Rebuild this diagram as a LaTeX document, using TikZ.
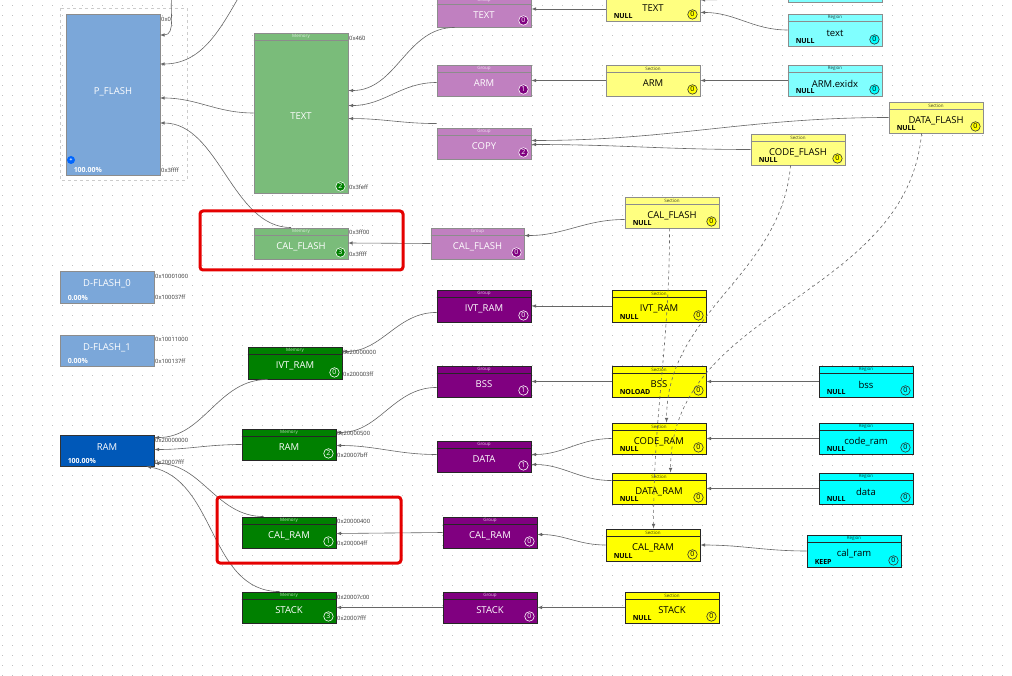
\documentclass[tikz,border=0pt]{standalone}
\usepackage{fontspec}
\setmainfont{Open Sans}
\usepackage{tikz}
\usetikzlibrary{fit,calc,arrows,positioning}
\definecolor{flashblue}{HTML}{7BA7D9}
\definecolor{ramblue}{HTML}{0058B8}
\definecolor{lmemgreen}{HTML}{7ABC7A}
\definecolor{dmemgreen}{HTML}{008000}
\definecolor{lgrp}{HTML}{C080C0}
\definecolor{dgrp}{HTML}{800080}
\definecolor{lsec}{HTML}{FFFF80}
\definecolor{dsec}{HTML}{FFFF00}
\definecolor{lreg}{HTML}{80FFFF}
\definecolor{dreg}{HTML}{00FFFF}
\tikzset{
  blkbox/.style={inner sep=0pt, line width=0.9pt},
  flash/.style={blkbox, fill=flashblue, draw=gray!90},
  ram/.style={blkbox, fill=ramblue, draw=black!80},
  lmem/.style={blkbox, fill=lmemgreen, draw=gray!90},
  dmem/.style={blkbox, fill=dmemgreen, draw=black!85},
  lgrp/.style={blkbox, fill=lgrp, draw=gray!90},
  dgrp/.style={blkbox, fill=dgrp, draw=black!85},
  lsec/.style={blkbox, fill=lsec, draw=gray!90},
  dsec/.style={blkbox, fill=dsec, draw=black!85},
  lreg/.style={blkbox, fill=lreg, draw=gray!90},
  dreg/.style={blkbox, fill=dreg, draw=black!85},
  flash txt/.style={text=white}, ram txt/.style={text=white},
  lmem txt/.style={text=white}, dmem txt/.style={text=white},
  lgrp txt/.style={text=white}, dgrp txt/.style={text=white},
  lsec txt/.style={text=black}, dsec txt/.style={text=black},
  lreg txt/.style={text=black}, dreg txt/.style={text=black},
  flash num/.style={}, ram num/.style={},
  lmem num/.style={fill=dmemgreen, draw=white, text=white},
  dmem num/.style={draw=white, text=white},
  lgrp num/.style={fill=dgrp, draw=white, text=white},
  dgrp num/.style={draw=white, text=white},
  lsec num/.style={fill=dsec, draw=black!80, text=black},
  dsec num/.style={draw=black!80, text=black},
  lreg num/.style={fill=dreg, draw=black!80, text=black},
  dreg num/.style={draw=black!80, text=black},
  hdr/.style={font=\fontsize{4.5}{4.5}\selectfont, inner sep=0pt},
  lbl/.style={font=\fontsize{9.5}{9.5}\selectfont, inner sep=0pt},
  stat/.style={font=\fontsize{7}{7}\selectfont\bfseries, inner sep=0pt, anchor=west},
  numc/.style={circle, inner sep=0pt, minimum size=9.5pt, line width=0.6pt, font=\fontsize{7}{7}\selectfont},
  addr/.style={font=\fontsize{5.8}{5.8}\selectfont, text=black!80, inner sep=0pt, anchor=west},
  link/.style={draw=black!60, line width=0.6pt, -latex},
  dlink/.style={link, dashed},
  redbox/.style={draw=red!90!black, line width=3pt, rounded corners=3pt}
}
% #1 name, #2 kind, #3 corners, #4 header, #5 label, #6 status, #7 number
\newcommand{\blk}[7]{%
  \node[#2, fit={#3}] (#1) {};
  \if\relax\detokenize{#4}\relax
    \node[lbl, #2 txt] at ($(#1.center)+(0,-3)$) {#5};
  \else
    \draw[#2] ($(#1.north west)+(0,8)$) -- ($(#1.north east)+(0,8)$);
    \node[hdr, #2 txt, text opacity=0.75] at ($(#1.north)+(0,4)$) {#4};
    \node[lbl, #2 txt] at ($(#1.center)+(0,3)$) {#5};
  \fi
  \node[stat, #2 txt] at ($(#1.south west)+(8,-5)$) {#6};
  \if\relax\detokenize{#7}\relax\else
    \node[numc, #2 num] at ($(#1.south east)+(-8,-7)$) {#7};
  \fi
}

\begin{document}
\begin{tikzpicture}[x=1pt, y=-1pt]
\useasboundingbox (0,0) rectangle (1012,676);
\clip (0,0) rectangle (1012,676);
\fill[white] (0,0) rectangle (1012,676);
% dotted grid
\foreach \gy in {5,15,...,675}
  \draw[black!25, line width=0.8pt, dash pattern=on 0.8pt off 9.2pt] (2,\gy) -- (1012,\gy);

% memories
\draw[black!20, dashed] (60,8) rectangle (187,180);
\blk{mPFLASH}{flash}{(66,14) (160,175)}{}{P\_FLASH}{\textcolor{white}{100.00\%}}{}
\fill[blue!60!cyan] (71,160) circle (4);
\node[white, inner sep=0pt, font=\tiny\bfseries] at (71,160) {+};
\blk{mDF0}{flash}{(60,271) (154,303)}{}{D-FLASH\_0}{0.00\%}{}
\blk{mDF1}{flash}{(60,335) (154,366)}{}{D-FLASH\_1}{0.00\%}{}
\blk{mRAM}{ram}{(60,435) (154,466)}{}{RAM}{100.00\%}{}
\blk{mTEXT}{lmem}{(254,33) (348,193)}{Memory}{TEXT}{}{2}
\blk{mCALF}{lmem}{(254,228) (348,259)}{Memory}{CAL\_FLASH}{}{3}
\blk{mIVT}{dmem}{(248,347) (342,379)}{Memory}{IVT\_RAM}{}{0}
\blk{mRAMS}{dmem}{(242,429) (336,460)}{Memory}{RAM}{}{2}
\blk{mCALR}{dmem}{(242,517) (336,548)}{Memory}{CAL\_RAM}{}{1}
\blk{mSTACK}{dmem}{(242,592) (336,623)}{Memory}{STACK}{}{3}

% addresses
\node[addr] at (161,19) {0x0};
\node[addr] at (161,170) {0x3ffff};
\node[addr] at (349,38) {0x460};
\node[addr] at (349,187) {0x3feff};
\node[addr] at (349,232) {0x3ff00};
\node[addr] at (349,254) {0x3ffff};
\node[addr] at (155,276) {0x10001000};
\node[addr] at (155,297) {0x100037ff};
\node[addr] at (155,339) {0x10011000};
\node[addr] at (155,361) {0x100137ff};
\node[addr] at (343,352) {0x20000000};
\node[addr] at (343,374) {0x200003ff};
\node[addr] at (155,440) {0x20000000};
\node[addr] at (155,462) {0x20007fff};
\node[addr] at (337,433) {0x20000500};
\node[addr] at (337,455) {0x20007bff};
\node[addr] at (337,521) {0x20000400};
\node[addr] at (337,543) {0x200004ff};
\node[addr] at (337,597) {0x20007c00};
\node[addr] at (337,618) {0x20007fff};

% groups
\blk{gTEXT}{lgrp}{(437,-3) (531,27)}{Group}{TEXT}{}{0}
\blk{gARM}{lgrp}{(437,65) (531,96)}{Group}{ARM}{}{1}
\blk{gCOPY}{lgrp}{(437,128) (531,159)}{Group}{COPY}{}{2}
\blk{gCALF}{lgrp}{(431,228) (524,259)}{Group}{CAL\_FLASH}{}{0}
\blk{gIVT}{dgrp}{(437,290) (531,322)}{Group}{IVT\_RAM}{}{0}
\blk{gBSS}{dgrp}{(437,366) (531,397)}{Group}{BSS}{}{1}
\blk{gDATA}{dgrp}{(437,441) (531,472)}{Group}{DATA}{}{1}
\blk{gCALR}{dgrp}{(443,517) (537,548)}{Group}{CAL\_RAM}{}{0}
\blk{gSTACK}{dgrp}{(443,592) (537,623)}{Group}{STACK}{}{0}

% sections
\blk{sTEXT}{lsec}{(606,-10) (700,21)}{Section}{TEXT}{NULL}{0}
\blk{sARM}{lsec}{(606,65) (700,96)}{Section}{ARM}{}{0}
\blk{sDATAF}{lsec}{(889,102) (983,133)}{Section}{DATA\_FLASH}{NULL}{0}
\blk{sCODEF}{lsec}{(751,134) (845,165)}{Section}{CODE\_FLASH}{NULL}{0}
\blk{sCALF}{lsec}{(625,197) (719,228)}{Section}{CAL\_FLASH}{NULL}{0}
\blk{sIVT}{dsec}{(612,290) (706,322)}{Section}{IVT\_RAM}{NULL}{0}
\blk{sBSS}{dsec}{(612,366) (706,397)}{Section}{BSS}{NOLOAD}{0}
\blk{sCODER}{dsec}{(612,423) (706,454)}{Section}{CODE\_RAM}{NULL}{0}
\blk{sDATAR}{dsec}{(612,473) (706,504)}{Section}{DATA\_RAM}{NULL}{0}
\blk{sCALR}{dsec}{(606,529) (700,561)}{Section}{CAL\_RAM}{NULL}{0}
\blk{sSTACK}{dsec}{(625,592) (719,623)}{Section}{STACK}{NULL}{0}

% regions
\blk{rTOP}{lreg}{(788,-30) (882,2)}{}{}{}{}
\blk{rTEXT}{lreg}{(788,14) (882,46)}{Region}{text}{NULL}{0}
\blk{rARM}{lreg}{(788,65) (882,96)}{Region}{ARM.exidx}{NULL}{0}
\blk{rBSS}{dreg}{(819,366) (913,397)}{Region}{bss}{NULL}{0}
\blk{rCODE}{dreg}{(819,423) (913,454)}{Region}{code\_ram}{NULL}{0}
\blk{rDATA}{dreg}{(819,473) (913,504)}{Region}{data}{NULL}{0}
\blk{rCALR}{dreg}{(807,535) (901,567)}{Region}{cal\_ram}{KEEP}{0}

% off-screen sources
\coordinate (offA) at (172,-5);
\coordinate (offB) at (240,-5);

% links into P_FLASH
\draw[link] (offA) to[out=-100,in=0] (160,35);
\draw[link] (offB) to[out=-120,in=0] (160,64);
\draw[link] (mTEXT.west) to[out=180,in=0] (160,98);
\draw[link] ($(mCALF.north)+(-10,0)$) to[out=180,in=0,looseness=0.9] (160,123);
% groups into memories
\draw[link] ($(gTEXT.south west)+(18,0)$) to[out=180,in=0] ($(mTEXT.north east)+(0,58)$);
\draw[link] ($(gARM.west)+(0,2)$) to[out=180,in=0] ($(mTEXT.north east)+(0,73)$);
\draw[link] ($(gCOPY.north west)+(0,-4)$) to[out=180,in=0] ($(mTEXT.north east)+(0,86)$);
\draw[link] (gCALF.west) -- (348,243);
\draw[link] ($(gIVT.south west)+(0,-10)$) to[out=180,in=0] ($(mIVT.north east)+(0,5)$);
\draw[link] ($(gBSS.south west)+(0,-10)$) to[out=180,in=0] ($(mRAMS.north east)+(0,4)$);
\draw[link] ($(gDATA.west)+(0,-2)$) to[out=180,in=0] ($(mRAMS.east)+(0,1)$);
\draw[link] (gCALR.west) -- ($(mCALR.east)+(0,1)$);
\draw[link] (gSTACK.west) -- (mSTACK.east);
% memories into RAM
\draw[link] ($(mIVT.south west)+(20,0)$) to[out=180,in=0] ($(mRAM.north east)+(0,3)$);
\draw[link] (mRAMS.west) to[out=180,in=0] ($(mRAM.east)+(0,-1)$);
\draw[link] ($(mCALR.north west)+(22,0)$) to[out=180,in=0] ($(mRAM.south east)+(0,-3)$);
\draw[link] ($(mSTACK.north west)+(38,0)$) to[out=180,in=-10] ($(mRAM.south east)+(-8,0)$);
% sections into groups
\draw[link] (sTEXT.west |- 0,9) -- (gTEXT.east |- 0,9);
\draw[link] (sARM.west) -- (gARM.east);
\draw[link] (sDATAF.west) to[out=180,in=0] ($(gCOPY.east)+(0,-3)$);
\draw[link] (sCODEF.west) to[out=180,in=0] ($(gCOPY.east)+(0,1)$);
\draw[link] ($(sCALF.west)+(0,7)$) to[out=180,in=0] ($(gCALF.north east)+(0,8)$);
\draw[link] (sIVT.west) -- (gIVT.east);
\draw[link] (sBSS.west) -- (gBSS.east);
\draw[link] (sCODER.west) to[out=180,in=0] ($(gDATA.east)+(0,-2)$);
\draw[link] ($(sDATAR.north west)+(0,8)$) to[out=180,in=0] ($(gDATA.east)+(0,8)$);
\draw[link] (sCALR.west) to[out=180,in=0] ($(gCALR.east)+(0,2)$);
\draw[link] (sSTACK.west) -- (gSTACK.east);
% regions into sections
\draw[link] ($(rTOP.south west)+(0,-4)$) -- (sTEXT.east |- 0,0);
\draw[link] (rTEXT.west) to[out=180,in=0] ($(sTEXT.south east)+(0,-9)$);
\draw[link] (rARM.west) -- (sARM.east);
\draw[link] (rBSS.west) -- (sBSS.east);
\draw[link] (rCODE.west) -- (sCODER.east);
\draw[link] (rDATA.west) -- (sDATAR.east);
\draw[link] (rCALR.west) to[out=180,in=0] (sCALR.east);
% copy links
\draw[dlink] ($(sCALF.south west)+(45,0)$) to[out=-90,in=90] ($(sCALR.north west)+(48,0)$);
\draw[dlink] ($(sCODEF.south west)+(40,0)$) to[out=-95,in=90] ($(sCODER.north west)+(55,0)$);
\draw[dlink] ($(sDATAF.south west)+(33,0)$) to[out=-95,in=90] ($(sDATAR.north west)+(59,0)$);

% highlight frames
\draw[redbox] (200,211) rectangle (403,270);
\draw[redbox] (217,497) rectangle (401,563);
\end{tikzpicture}
\end{document}
